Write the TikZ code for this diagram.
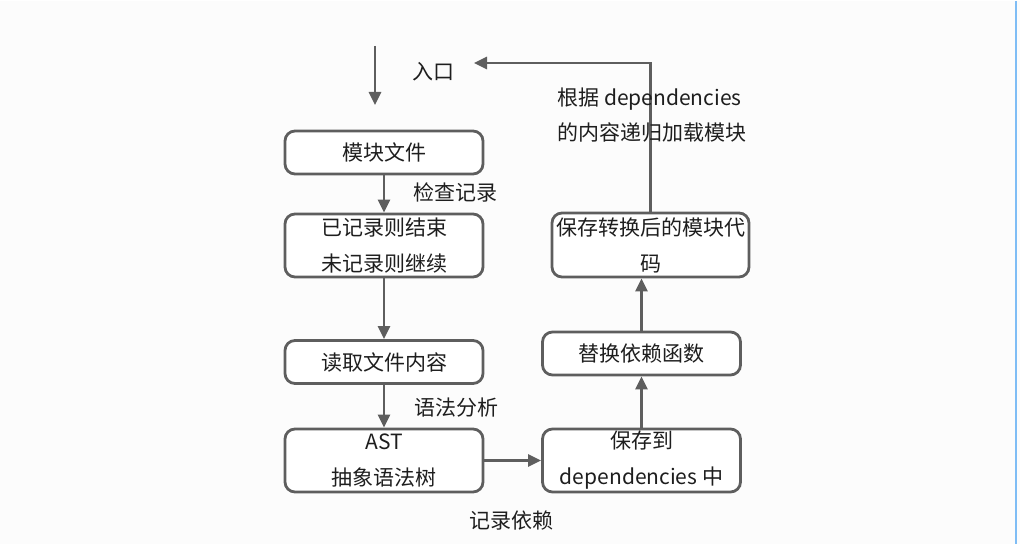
\documentclass[tikz,border=0pt]{standalone}
\usepackage{fontspec}
\newfontfamily\cjk{Noto Sans CJK SC}
\usetikzlibrary{arrows.meta}
\definecolor{linegray}{HTML}{5E5E5E}
\definecolor{txtgray}{HTML}{1E1E1E}
\definecolor{edgeblue}{HTML}{7FBDF5}
\definecolor{paper}{HTML}{FCFCFC}
\tikzset{
  box/.style={draw=linegray, line width=2.8pt, rounded corners=10pt, fill=white,
    minimum width=198pt, minimum height=43pt, inner sep=0pt,
    align=center, text=txtgray, font=\cjk\fontsize{21}{36}\selectfont},
  lbl/.style={text=txtgray, inner sep=0pt, font=\cjk\fontsize{21}{35}\selectfont},
}
\begin{document}
\begin{tikzpicture}[x=1pt, y=-1pt, >={Triangle[length=13pt,width=12pt]}, line width=2.8pt]
\fill [paper] (0,0) rectangle (1020,543);
\draw [edgeblue, line width=2pt] (1016,0) -- (1016,543);

% left column
\node [box] (file) at (384,151.5) {模块文件};
\node [box, minimum height=63pt] (check) at (384,244.5) {已记录则结束\\未记录则继续};
\node [box] (read) at (384,361) {读取文件内容};
\node [box, minimum height=63pt] (ast) at (384,459.5) {AST\\抽象语法树};

% right column
\node [box, minimum height=63pt] (store) at (641.5,459.5) {保存到\\dependencies 中};
\node [box] (replace) at (641.5,352.5) {替换依赖函数};
\node [box, minimum width=197pt, minimum height=64pt] (save) at (650.5,244) {保存转换后的模块代\\码};

\coordinate (start) at (375,45);
\coordinate (entry) at (375,104);
\coordinate (back) at (474,62);

\draw [->, linegray] (start) -- (entry);
\node [lbl] at (433,71) {入口};

\draw [->, linegray] (file) -- (check);
\node [lbl] at (455,191) {检查记录};
\draw [->, linegray] (check) -- (read);
\draw [->, linegray] (read) -- (ast);
\node [lbl] at (456,407) {语法分析};
\draw [->, linegray] (ast) -- (store);
\node [lbl] at (511,520) {记录依赖};

\draw [->, linegray] (store) -- (replace);
\draw [->, linegray] (replace.north) -- (replace.north |- save.south);
\draw [->, linegray] (save.north) |- (back);
\node [lbl, anchor=west, align=left] at (556,114.5) {根据 dependencies\\的内容递归加载模块};
\end{tikzpicture}
\end{document}
